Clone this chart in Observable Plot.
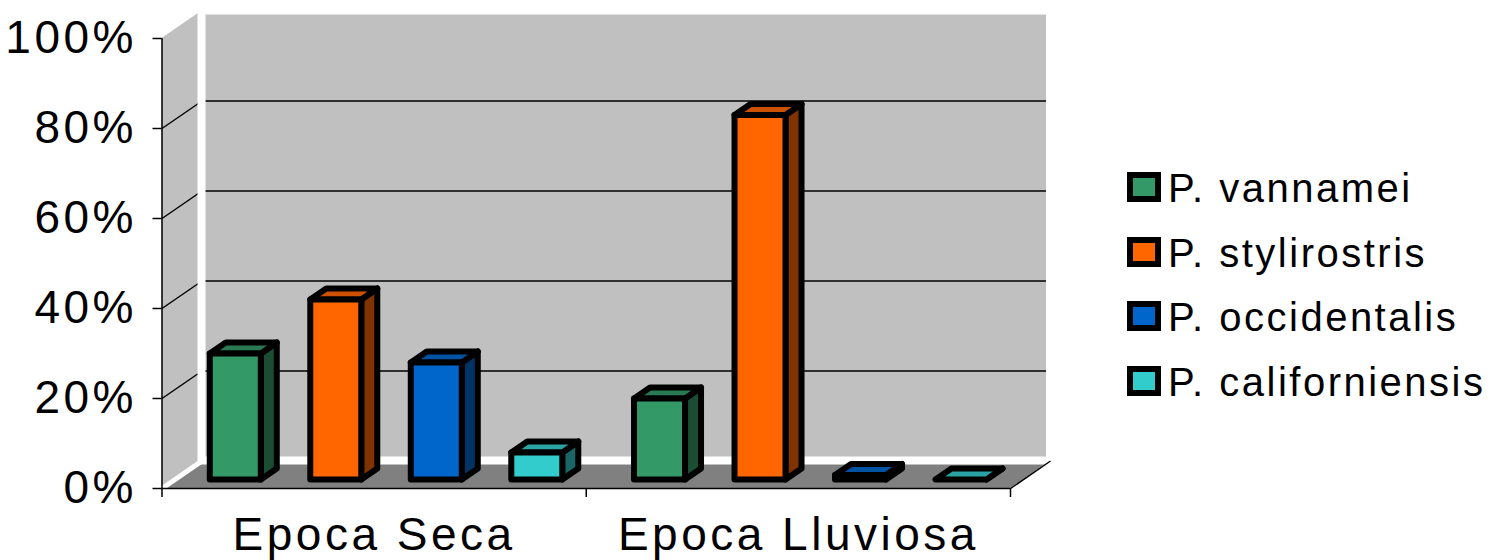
<!DOCTYPE html>
<html>
<head>
<meta charset="utf-8">
<script src="https://cdn.jsdelivr.net/npm/d3@7"></script>
<script src="https://cdn.jsdelivr.net/npm/@observablehq/plot@0.6"></script>
<style>
  html, body { margin: 0; padding: 0; background: #fff; }
  #wrap { position: relative; width: 1490px; height: 560px; overflow: hidden;
          font-family: "Liberation Sans", Arial, sans-serif; }
  #wrap svg { position: absolute; left: 0; top: 0; overflow: visible; }
  .leg-row { position: absolute; left: 1127px; height: 40px; }
  .leg-box { position: absolute; left: 0; top: 0; width: 22px; height: 18px;
             border: 6px solid #000; }
  .leg-text { position: absolute; left: 41px; top: -4px; font-size: 40px;
              line-height: 40px; letter-spacing: 2.5px; white-space: nowrap; color: #000; }
</style>
</head>
<body>
<div id="wrap"></div>
<script>
// Seasons (categories) and species (series), values in percent
const categories = ["Epoca Seca", "Epoca Lluviosa"];
const species = ["P. vannamei", "P. stylirostris", "P. occidentalis", "P. californiensis"];
const vannamei = [28, 18];
const stylirostris = [40, 81];
const occidentalis = [26, 1];
const californiensis = [6, 0];
const yTicks = [0, 20, 40, 60, 80, 100];
const gridTicks = [20, 40, 60, 80];

const seriesValues = [vannamei, stylirostris, occidentalis, californiensis];
const frontColors = ["#339966", "#ff6600", "#0066cc", "#33cccc"];
const sideColors  = ["#1a4d33", "#803300", "#003366", "#1a6666"];
const topColors   = ["#297a52", "#cc5200", "#0052a3", "#29a3a3"];

// Frame geometry
const width = 1490, height = 560;
const marginLeft = 161.5, marginRight = 480, marginTop = 38, marginBottom = 72;
const xDomain = [0, categories.length];
const yDomain = [0, 100];
const unitX = (xDomain[1] - xDomain[0]) / (width - marginLeft - marginRight); // x units per px
const unitY = (yDomain[1] - yDomain[0]) / (height - marginTop - marginBottom); // y units per px

// Depth of the 3-D box (back plane offset), in data units
const Dx = 40 * unitX, Dy = 27.5 * unitY;
// Bars sit between these depth fractions
const zFront = 0.31, zBack = 0.71;
const pitch = 100.5 * unitX, barW = 51 * unitX;

const bars = categories.flatMap((cat, i) => species.map((s, j) => {
  const v = seriesValues[j][i];
  const x0 = i + 0.5 + (j - 1.5) * pitch - barW / 2 + zFront * Dx;
  const x1 = x0 + barW;
  const yb = yDomain[0] + zFront * Dy;
  const yt = v + zFront * Dy;
  return {id: `${i}-${j}`, j, v, x0, x1, yb, yt};
}));
const bdX = (zBack - zFront) * Dx, bdY = (zBack - zFront) * Dy;

const sideFaces = bars.flatMap(b => [
  {id: b.id, j: b.j, x: b.x1, y1: b.yb, y2: b.yt},
  {id: b.id, j: b.j, x: b.x1 + bdX, y1: b.yb + bdY, y2: b.yt + bdY}
]);
const topFaces = bars.flatMap(b => [
  {id: b.id, j: b.j, y: b.yt, x1: b.x0, x2: b.x1},
  {id: b.id, j: b.j, y: b.yt + bdY, x1: b.x0 + bdX, x2: b.x1 + bdX}
]);

const floor = [
  {y: yDomain[0], x1: xDomain[0], x2: xDomain[1]},
  {y: yDomain[0] + Dy, x1: xDomain[0] + Dx, x2: xDomain[1] + Dx}
];
const leftWall = [
  {x: xDomain[0], y1: yDomain[0], y2: yDomain[1]},
  {x: xDomain[0] + Dx, y1: yDomain[0] + Dy, y2: yDomain[1] + Dy}
];
const backWall = [{x1: xDomain[0] + Dx, x2: xDomain[1] + Dx, y1: yDomain[0] + Dy, y2: yDomain[1] + Dy}];

const faceStroke = {stroke: "#000", strokeWidth: 6, strokeLinejoin: "round"};
const lineStyle = {stroke: "#000", strokeWidth: 1.5};

const chart = Plot.plot({
  width, height, marginLeft, marginRight, marginTop, marginBottom,
  x: {domain: xDomain},
  y: {domain: yDomain},
  color: {type: "identity"},
  style: {fontFamily: "'Liberation Sans', Arial, sans-serif", letterSpacing: "3.5px", background: "transparent", overflow: "visible"},
  marks: [
    // floor
    Plot.areaX(floor, {y: "y", x1: "x1", x2: "x2", fill: "#808080"}),
    // left wall and its diagonal gridlines
    Plot.areaY(leftWall, {x: "x", y1: "y1", y2: "y2", fill: "#c0c0c0"}),
    Plot.link(gridTicks, {x1: xDomain[0], x2: xDomain[0] + Dx, y1: d => d, y2: d => d + Dy, ...lineStyle}),
    // back wall and its gridlines
    Plot.rect(backWall, {x1: "x1", x2: "x2", y1: "y1", y2: "y2", fill: "#c0c0c0"}),
    Plot.link(gridTicks, {x1: xDomain[0] + Dx, x2: xDomain[1] + Dx, y1: d => d + Dy, y2: d => d + Dy, ...lineStyle}),
    Plot.rect(backWall, {x1: "x1", x2: "x2", y1: "y1", y2: "y2", fill: "none", stroke: "#fff", strokeWidth: 8}),
    // wall edges on the floor
    Plot.link([0], {x1: xDomain[0], x2: xDomain[0] + Dx, y1: yDomain[0], y2: yDomain[0] + Dy, stroke: "#fff", strokeWidth: 5}),
    Plot.link([0], {x1: xDomain[1], x2: xDomain[1] + Dx, y1: yDomain[0], y2: yDomain[0] + Dy, ...lineStyle}),
    // axis lines
    Plot.ruleY([yDomain[0]], {x1: xDomain[0], x2: xDomain[1], ...lineStyle}),
    Plot.ruleX([xDomain[0]], {y1: yDomain[0], y2: yDomain[1], ...lineStyle}),
    Plot.axisY(yTicks, {tickSize: 9, tickPadding: 16, tickFormat: d => d + "%", fontSize: 46, label: null, strokeWidth: 1.5}),
    Plot.axisX([0, 1, 2], {tickSize: 9, tickFormat: () => "", label: null, strokeWidth: 1.5}),
    Plot.axisX(categories.map((d, i) => i + 0.5), {tickSize: 0, tickPadding: 29, tickFormat: d => categories[Math.floor(d)], fontSize: 46, label: null}),
    // 3-D columns
    Plot.areaY(sideFaces, {x: "x", y1: "y1", y2: "y2", z: "id", fill: d => sideColors[d.j], ...faceStroke}),
    Plot.areaX(topFaces, {y: "y", x1: "x1", x2: "x2", z: "id", fill: d => topColors[d.j], ...faceStroke}),
    Plot.rect(bars, {x1: "x0", x2: "x1", y1: "yb", y2: "yt", fill: d => frontColors[d.j], ...faceStroke})
  ]
});

const wrap = document.getElementById("wrap");
wrap.appendChild(chart);

// legend
species.forEach((name, j) => {
  const row = document.createElement("div");
  row.className = "leg-row";
  row.style.top = (172 + j * 64.7) + "px";
  const box = document.createElement("div");
  box.className = "leg-box";
  box.style.background = frontColors[j];
  const txt = document.createElement("div");
  txt.className = "leg-text";
  txt.textContent = name;
  row.appendChild(box);
  row.appendChild(txt);
  wrap.appendChild(row);
});
</script>
</body>
</html>
